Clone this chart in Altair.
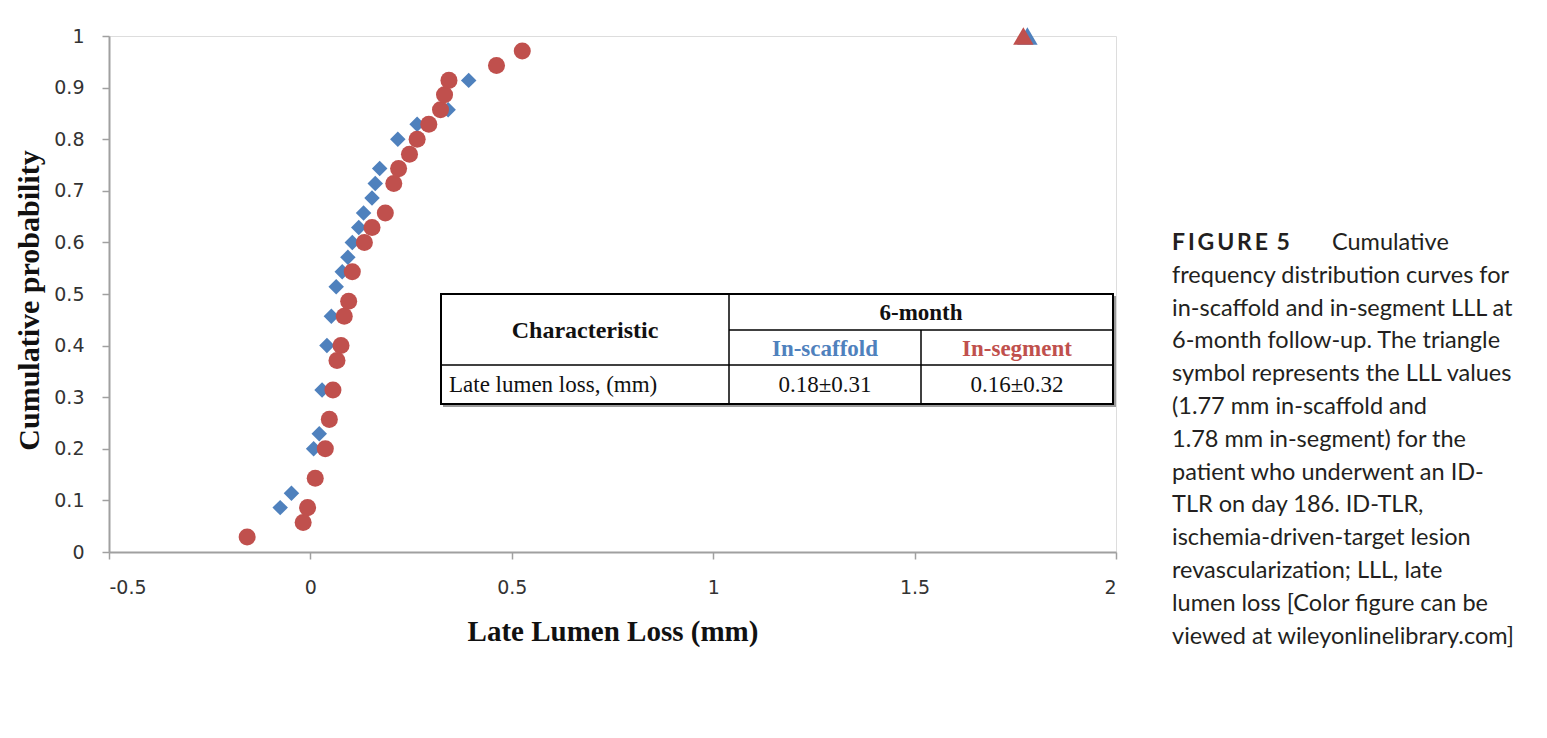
import altair as alt
import pandas as pd

# ---- data ----
scaffold_x = [-0.075, -0.047, 0.008, 0.022, 0.029, 0.041, 0.052, 0.064, 0.079, 0.093,
              0.104, 0.120, 0.132, 0.153, 0.161, 0.172, 0.217, 0.265, 0.342, 0.393]
scaffold_y = [0.086, 0.114, 0.200, 0.229, 0.314, 0.400, 0.457, 0.514, 0.543, 0.571,
              0.600, 0.629, 0.657, 0.686, 0.714, 0.743, 0.800, 0.829, 0.857, 0.914]

segment_x = [-0.157, -0.018, -0.007, 0.012, 0.037, 0.047, 0.056, 0.066, 0.076, 0.084,
             0.095, 0.104, 0.134, 0.153, 0.186, 0.207, 0.219, 0.246, 0.265, 0.294,
             0.323, 0.333, 0.344, 0.462, 0.526]
segment_y = [0.029, 0.057, 0.086, 0.143, 0.200, 0.257, 0.314, 0.371, 0.400, 0.457,
             0.486, 0.543, 0.600, 0.629, 0.657, 0.714, 0.743, 0.771, 0.800, 0.829,
             0.857, 0.886, 0.914, 0.943, 0.971]

tlr_series = ["In-scaffold", "In-segment"]
tlr_x = [1.78, 1.77]
tlr_y = [1.0, 1.0]

x_ticks = [-0.5, 0, 0.5, 1, 1.5, 2]
y_ticks = [0, 0.1, 0.2, 0.3, 0.4, 0.5, 0.6, 0.7, 0.8, 0.9, 1]

table_header = ["Characteristic", "6-month", "In-scaffold", "In-segment"]
table_row = ["Late lumen loss, (mm)", "0.18±0.31", "0.16±0.32"]

caption_head = "F\u2009I\u2009G\u2009U\u2009R\u2009E\u2009 5"
caption_lines = [
    "Cumulative",
    "frequency distribution curves for",
    "in-scaffold and in-segment LLL at",
    "6-month follow-up. The triangle",
    "symbol represents the LLL values",
    "(1.77 mm in-scaffold and",
    "1.78 mm in-segment) for the",
    "patient who underwent an ID-",
    "TLR on day 186. ID-TLR,",
    "ischemia-driven-target lesion",
    "revascularization; LLL, late",
    "lumen loss [Color figure can be",
    "viewed at wileyonlinelibrary.com]",
]

BLUE = "#4F81BD"
RED = "#C0504D"
W, H = 1007, 516

scaffold = pd.DataFrame({"x": scaffold_x, "y": scaffold_y})
segment = pd.DataFrame({"x": segment_x, "y": segment_y})
tlr = pd.DataFrame({"series": tlr_series, "x": tlr_x, "y": tlr_y})

xscale = alt.Scale(domain=[-0.5, 2], nice=False, zero=False)
yscale = alt.Scale(domain=[0, 1], nice=False)

xaxis = alt.Axis(
    values=x_ticks, labelExpr="'' + datum.value", grid=False,
    domainColor="#a0a0a0", domainWidth=2, tickColor="#a0a0a0", tickWidth=1.5, tickSize=7,
    labelFont="DejaVu Sans", labelFontSize=19, labelColor="#333", labelPadding=19,
    title="Late Lumen Loss (mm)", titleFont="Liberation Serif", titleFontSize=29,
    titleFontWeight="bold", titleColor="#111", titleBaseline="middle", titleY=79,
)
yaxis = alt.Axis(
    values=y_ticks, format=".1~f", grid=False,
    domainColor="#a0a0a0", domainWidth=2, tickColor="#a0a0a0", tickWidth=1.5, tickSize=7,
    labelFont="DejaVu Sans", labelFontSize=19, labelColor="#333", labelPadding=18,
    title="Cumulative probability", titleFont="Liberation Serif", titleFontSize=30,
    titleFontWeight="bold", titleColor="#111", titleBaseline="middle",
    titleX=-80, titleY=264, titleAngle=-90,
)

blue_pts = alt.Chart(scaffold).mark_point(
    shape="diamond", filled=True, opacity=1, size=240, color=BLUE
).encode(x=alt.X("x:Q", scale=xscale, axis=xaxis), y=alt.Y("y:Q", scale=yscale, axis=yaxis))

red_pts = alt.Chart(segment).mark_point(
    shape="circle", filled=True, opacity=1, size=290, color=RED
).encode(x=alt.X("x:Q", scale=xscale), y=alt.Y("y:Q", scale=yscale))

tri = alt.Chart(tlr).mark_point(shape="triangle-up", filled=True, opacity=1, size=420).encode(
    x=alt.X("x:Q", scale=xscale), y=alt.Y("y:Q", scale=yscale),
    color=alt.Color("series:N", scale=alt.Scale(domain=tlr_series, range=[BLUE, RED]), legend=None),
    order=alt.Order("series:N"),
)

# ---- inset table ----
one = pd.DataFrame({"k": [0]})
TL, TR, TT, TB = 332, 1004, 258, 368
C1, C2, R1, R2 = 620, 812, 294, 329

shadow = alt.Chart(one).mark_rect(fill="#9a9a9a").encode(
    x=alt.value(TL + 2), x2=alt.value(TR + 3), y=alt.value(TT + 2), y2=alt.value(TB + 3))
box = alt.Chart(one).mark_rect(fill="white", stroke="black", strokeWidth=2).encode(
    x=alt.value(TL), x2=alt.value(TR), y=alt.value(TT), y2=alt.value(TB))
v1 = alt.Chart(one).mark_rule(color="black", strokeWidth=1.5).encode(
    x=alt.value(C1), y=alt.value(TT), y2=alt.value(TB))
v2 = alt.Chart(one).mark_rule(color="black", strokeWidth=1.5).encode(
    x=alt.value(C2), y=alt.value(R1), y2=alt.value(TB))
h1 = alt.Chart(one).mark_rule(color="black", strokeWidth=1.5).encode(
    x=alt.value(C1), x2=alt.value(TR), y=alt.value(R1))
h2 = alt.Chart(one).mark_rule(color="black", strokeWidth=1.5).encode(
    x=alt.value(TL), x2=alt.value(TR), y=alt.value(R2))


def cell(txt, x, y, align="center", weight="normal", color="#111", size=24):
    return alt.Chart(pd.DataFrame({"t": [txt]})).mark_text(
        font="Liberation Serif", fontSize=size, fontWeight=weight, color=color,
        align=align, baseline="middle",
    ).encode(text="t:N", x=alt.value(x), y=alt.value(y))


cells = [
    cell(table_header[0], 476, 295, weight="bold"),
    cell(table_header[1], 812, 277, weight="bold", size=23),
    cell(table_header[2], 716, 313, weight="bold", color=BLUE, size=23),
    cell(table_header[3], 908, 313, weight="bold", color=RED, size=23),
    cell(table_row[0], 340, 349, align="left", size=23),
    cell(table_row[1], 716, 349, size=23),
    cell(table_row[2], 908, 349, size=23),
]

# ---- caption ----
cap_color = "#231f20"
cap_head = alt.Chart(pd.DataFrame({"t": [caption_head]})).mark_text(
    font="Lato", fontSize=23, fontWeight="bold", color=cap_color, align="left",
    baseline="alphabetic",
).encode(text="t:N", x=alt.value(1063), y=alt.value(214))
cap_first = alt.Chart(pd.DataFrame({"t": [caption_lines[0]]})).mark_text(
    font="Lato", fontSize=23.5, color=cap_color, align="left", baseline="alphabetic",
).encode(text="t:N", x=alt.value(1223), y=alt.value(214))
cap_rest = alt.Chart(pd.DataFrame({"t": ["\n".join(caption_lines[1:])]})).mark_text(
    font="Lato", fontSize=23.5, color=cap_color, align="left", baseline="alphabetic",
    lineBreak="\n", lineHeight=32.8,
).encode(text="t:N", x=alt.value(1063), y=alt.value(246.8))

chart = alt.layer(
    blue_pts, red_pts, tri, shadow, box, v1, v2, h1, h2, *cells, cap_head, cap_first, cap_rest
).properties(
    width=W, height=H,
    autosize=alt.AutoSizeParams(type="none"),
    padding={"left": 101, "top": 28, "right": 420, "bottom": 170},
).configure_view(stroke=None).configure(background="white")

chart.save("out.html", embed_options={"renderer": "svg", "actions": False})
